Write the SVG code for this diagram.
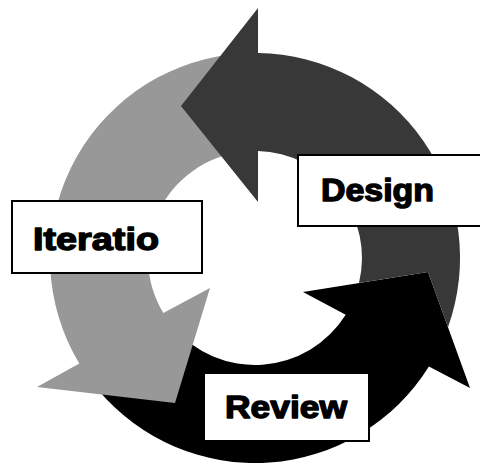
<svg xmlns="http://www.w3.org/2000/svg" width="480" height="465" viewBox="0 0 480 465">
  <style>
    .box { fill: #ffffff; stroke: #000000; stroke-width: 2; }
    .label { font-family: "Liberation Sans", Arial, sans-serif; font-weight: bold; font-size: 32px; fill: #000000; stroke: #000000; stroke-width: 1.4; stroke-linejoin: round; }
    .light { fill: #989898; }
    .dark { fill: #383838; }
    .black { fill: #000000; }
  </style>
  <rect width="480" height="465" fill="#ffffff"/>

  <!-- Three curved arrows around a common centre (255,258), outer radius 205, inner radius 107 -->
  <g id="connectors">
    <!-- bottom arrow: runs along the bottom and turns up the right side -->
    <path id="arrow-review" class="black" d="M 98,389.8 A 205 205 0 0 0 428.9,366.6 L 470,388 L 428,272 L 303,292 L 345.7,314.7 A 107 107 0 0 1 173,326.8 Z"/>
    <!-- left arrow: runs from the top down the left side -->
    <path id="arrow-iteration" class="light" d="M 230,54.5 A 205 205 0 0 0 79.3,363.6 L 37,387 L 175,403 L 210,288 L 163.3,313.1 A 107 107 0 0 1 242,151.8 Z"/>
    <!-- top arrow: runs up the right side and over the top; its tail stops at the bottom arrow's head -->
    <path id="arrow-design" class="dark" d="M 448,327.2 A 205 205 0 0 0 258,53 L 258,8 L 181,106 L 258,202 L 258,151 A 107 107 0 0 1 359,283 L 428,272 Z"/>
  </g>

  <g id="node-design">
    <rect class="box" x="298" y="155" width="190" height="71"/>
    <text class="label" x="321" y="201" textLength="113" lengthAdjust="spacingAndGlyphs">Design</text>
  </g>

  <g id="node-iteration">
    <rect class="box" x="12" y="201" width="190" height="72"/>
    <text class="label" x="33" y="250" textLength="126" lengthAdjust="spacingAndGlyphs">Iteratio</text>
  </g>

  <g id="node-review">
    <rect class="box" x="204" y="373" width="165" height="68"/>
    <text class="label" x="225" y="418" textLength="122" lengthAdjust="spacingAndGlyphs">Review</text>
  </g>
</svg>
